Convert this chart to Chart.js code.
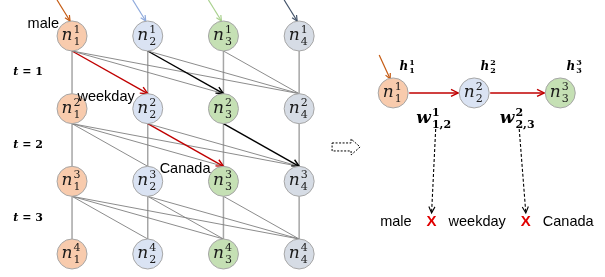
<!DOCTYPE html>
<html><head><meta charset="utf-8">
<script src="https://cdn.jsdelivr.net/npm/chart.js@4/dist/chart.umd.min.js"></script>
<style>html,body{margin:0;padding:0;background:#fff}#wrap{width:605px;height:277px}</style>
</head><body><div id="wrap"><canvas id="c" width="605" height="277"></canvas></div>
<script>
// ---- data ----
const fields = [1, 2, 3, 4];                 // node index within a layer (subscript)
const steps = [1, 2, 3, 4];                  // layer index (superscript)
const stepLabels = ['1', '2', '3'];          // t = 1, t = 2, t = 3
const bandEdges = [[1,2],[1,3],[1,4],[2,3],[2,4],[3,4]]; // forward links between consecutive layers
const redPath = [[1,1,2],[2,2,3]];           // [layer, from, to]
const blackPath = [[1,2,3],[2,3,4]];
const pathNodes = [[1,1],[2,2],[3,3]];       // [field, layer] of the extracted path
const pathWords = ['male', 'weekday', 'Canada'];
const weightLabels = [['1','1,2'], ['2','2,3']];

// ---- styles / layout ----
const nodeFill = ['#f8cbad', '#dae3f3', '#c5e0b4', '#d6dce5'];
const inputColor = ['#c55a11', '#8faadc', '#a9d18e', '#44546a'];
const layout = { xMin: 0.0485, xMax: 8.04, yMin: 0.5046, yMax: 4.3166,
  tLabelX: 0.42, rightX: [5.242, 6.312, 7.449], rightY: 1.784,
  wordsX: 5.07, wordsY: 3.56, hollow: [4.62, 2.527] };
const R = 15;

const gridPoints = [], gridColors = [];
steps.forEach(s => fields.forEach(f => { gridPoints.push({x: f, y: s}); gridColors.push(nodeFill[f-1]); }));
const rightPoints = pathNodes.map((p, i) => ({x: layout.rightX[i], y: layout.rightY}));
const rightColors = pathNodes.map(p => nodeFill[p[0]-1]);

function arrow(ctx, x1, y1, x2, y2, color, width, dash, head) {
  ctx.save();
  ctx.strokeStyle = color; ctx.lineWidth = width;
  ctx.setLineDash(dash || []);
  ctx.beginPath(); ctx.moveTo(x1, y1); ctx.lineTo(x2, y2); ctx.stroke();
  ctx.setLineDash([]);
  if (head) {
    const a = Math.atan2(y2 - y1, x2 - x1);
    ctx.beginPath();
    ctx.moveTo(x2 - head * Math.cos(a - 0.45), y2 - head * Math.sin(a - 0.45));
    ctx.lineTo(x2, y2);
    ctx.lineTo(x2 - head * Math.cos(a + 0.45), y2 - head * Math.sin(a + 0.45));
    ctx.stroke();
  }
  ctx.restore();
}
function mathLabel(ctx, base, sup, sub, x, y, size, bold, color) {
  const b = bold ? 'bold ' : '';
  const small = Math.round(size * 0.66);
  ctx.save();
  ctx.fillStyle = color || '#000';
  ctx.textBaseline = 'alphabetic'; ctx.textAlign = 'left';
  ctx.font = `${b}italic ${size}px "DejaVu Serif"`;
  const wb = ctx.measureText(base).width;
  ctx.font = `${b}${small}px "DejaVu Serif"`;
  const ws = Math.max(ctx.measureText(sup).width, ctx.measureText(sub).width);
  const left = x - (wb + 1 + ws) / 2;
  const by = y + size * 0.3;
  ctx.font = `${b}italic ${size}px "DejaVu Serif"`;
  ctx.fillText(base, left, by);
  ctx.font = `${b}${small}px "DejaVu Serif"`;
  ctx.fillText(sup, left + wb + 1, by - size * 0.42);
  ctx.fillText(sub, left + wb + 1, by + size * 0.28);
  ctx.restore();
}

const diagram = {
  id: 'diagram',
  beforeDatasetsDraw(chart) {
    const ctx = chart.ctx, sx = chart.scales.x, sy = chart.scales.y;
    const P = (xv, yv) => [sx.getPixelForValue(xv), sy.getPixelForValue(yv)];
    const isIn = (list, s, a, b) => list.some(e => e[0] === s && e[1] === a && e[2] === b);
    for (let i = 0; i < steps.length - 1; i++) {
      const s = steps[i], t = steps[i+1];
      fields.forEach(f => {
        const [x1, y1] = P(f, s), [x2, y2] = P(f, t);
        arrow(ctx, x1, y1 + R, x2, y2 - R, '#a6a6a6', 1.5, null, 0);
      });
      bandEdges.forEach(([a, b]) => {
        const [x1, y1] = P(a, s), [x2, y2] = P(b, t);
        if (isIn(redPath, s, a, b)) arrow(ctx, x1, y1 + R, x2, y2 - R, '#c00000', 1.4, null, 8);
        else if (isIn(blackPath, s, a, b)) arrow(ctx, x1, y1 + R, x2, y2 - R, '#000000', 1.4, null, 8);
        else arrow(ctx, x1, y1 + R, x2, y2 - R, '#7f7f7f', 0.9, null, 0);
      });
    }
    fields.forEach(f => {
      const [x, y] = P(f, steps[0]);
      arrow(ctx, x - 15, y - 36, x - 2, y - R, inputColor[f-1], 1.2, null, 6);
    });
    const rp = rightPoints.map(p => P(p.x, p.y));
    arrow(ctx, rp[0][0] - 14, rp[0][1] - 38, rp[0][0] - 3, rp[0][1] - R + 1, inputColor[0], 1.2, null, 6);
    for (let i = 0; i < rp.length - 1; i++) {
      arrow(ctx, rp[i][0] + R + 1, rp[i][1], rp[i+1][0] - R - 1, rp[i+1][1], '#c00000', 1.4, null, 8);
    }
  },
  afterDatasetsDraw(chart) {
    const ctx = chart.ctx, sx = chart.scales.x, sy = chart.scales.y;
    const P = (xv, yv) => [sx.getPixelForValue(xv), sy.getPixelForValue(yv)];
    gridPoints.forEach(p => {
      const [x, y] = P(p.x, p.y);
      mathLabel(ctx, 'n', String(p.y), String(p.x), x - 1, y - 1, 17, false, '#1a1a1a');
    });
    const rp = rightPoints.map(p => P(p.x, p.y));
    pathNodes.forEach(([f, s], i) => {
      mathLabel(ctx, 'n', String(s), String(f), rp[i][0] - 1, rp[i][1] - 1, 17, false, '#1a1a1a');
      mathLabel(ctx, 'h', String(s), String(f), rp[i][0] + 14, rp[i][1] - 27, 12, true, '#000');
    });
    stepLabels.forEach((t, i) => {
      const [x, y] = P(layout.tLabelX, steps[i] + 0.5);
      ctx.save(); ctx.fillStyle = '#000'; ctx.textBaseline = 'middle'; ctx.textAlign = 'left';
      ctx.font = 'bold italic 11px "DejaVu Serif"';
      const w1 = ctx.measureText('t').width;
      ctx.font = 'bold 11px "DejaVu Serif"';
      const w2 = ctx.measureText(' = ' + t).width;
      const left = x - (w1 + w2) / 2;
      ctx.font = 'bold italic 11px "DejaVu Serif"'; ctx.fillText('t', left, y);
      ctx.font = 'bold 11px "DejaVu Serif"'; ctx.fillText(' = ' + t, left + w1, y);
      ctx.restore();
    });
    ctx.save(); ctx.fillStyle = '#000'; ctx.font = '14.5px "Liberation Sans"';
    ctx.textAlign = 'right'; ctx.textBaseline = 'middle';
    pathNodes.forEach(([f, s], i) => {
      const [x, y] = P(f, s);
      ctx.fillText(pathWords[i], x - 13, y - 12);
    });
    ctx.restore();
    const wPos = [];
    weightLabels.forEach(([sup, sub], i) => {
      const x = (rp[i][0] + rp[i+1][0]) / 2, y = rp[i][1] + 25;
      mathLabel(ctx, 'w', sup, sub, x, y, 17, true, '#000');
      wPos.push([x, y]);
    });
    ctx.save(); ctx.textBaseline = 'middle'; ctx.textAlign = 'left';
    let [bx, by] = P(layout.wordsX, layout.wordsY);
    const xs = [];
    pathWords.forEach((w, i) => {
      ctx.font = '14.5px "Liberation Sans"'; ctx.fillStyle = '#000';
      ctx.fillText(w, bx, by); bx += ctx.measureText(w).width + 15;
      if (i < pathWords.length - 1) {
        ctx.font = 'bold 15px "Liberation Sans"'; ctx.fillStyle = '#e00000';
        const wx = ctx.measureText('X').width;
        ctx.fillText('X', bx, by); xs.push(bx + wx / 2); bx += wx + 12;
      }
    });
    ctx.restore();
    xs.forEach((x, i) => arrow(ctx, wPos[i][0] + 2, wPos[i][1] + 11, x, by - 9, '#000', 1.1, [3, 2], 7));
    const [hx, hy] = P(layout.hollow[0], layout.hollow[1]);
    ctx.save(); ctx.strokeStyle = '#000'; ctx.lineWidth = 1; ctx.setLineDash([2, 1.5]);
    ctx.beginPath();
    ctx.moveTo(hx - 14, hy - 4); ctx.lineTo(hx + 5, hy - 4); ctx.lineTo(hx + 5, hy - 8);
    ctx.lineTo(hx + 14, hy); ctx.lineTo(hx + 5, hy + 8); ctx.lineTo(hx + 5, hy + 4);
    ctx.lineTo(hx - 14, hy + 4); ctx.closePath(); ctx.stroke();
    ctx.restore();
  }
};

new Chart(document.getElementById('c'), {
  type: 'scatter',
  data: { datasets: [
    { data: gridPoints, pointRadius: R, pointHoverRadius: R, pointBackgroundColor: gridColors,
      pointBorderColor: '#a6a6a6', pointBorderWidth: 1, clip: false },
    { data: rightPoints, pointRadius: R, pointHoverRadius: R, pointBackgroundColor: rightColors,
      pointBorderColor: '#a6a6a6', pointBorderWidth: 1, clip: false }
  ]},
  options: {
    responsive: false, animation: false, events: [],
    layout: { padding: 0, autoPadding: false },
    plugins: { legend: { display: false }, tooltip: { enabled: false } },
    scales: {
      x: { type: 'linear', min: layout.xMin, max: layout.xMax, display: false },
      y: { type: 'linear', min: layout.yMin, max: layout.yMax, reverse: true, display: false }
    }
  },
  plugins: [diagram]
});
</script></body></html>
